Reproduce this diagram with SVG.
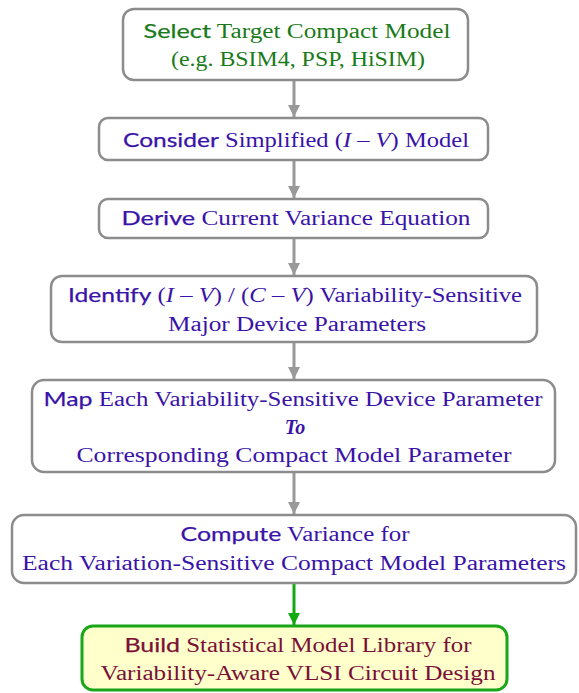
<svg xmlns="http://www.w3.org/2000/svg" width="579" height="693" viewBox="0 0 579 693">
  <style>
    .box { fill: #ffffff; stroke: #8c8c8c; stroke-width: 2.5; }
    .final { fill: #ffffcc; stroke: #1aa61a; stroke-width: 3; }
    .t { font-size: 20px; text-anchor: middle; }
    .lead { font-family: Lato, "Open Sans", sans-serif; font-weight: normal; stroke-width: 0.25px; }
    .green { fill: #1a7a1a; stroke: #1a7a1a; stroke-width: 0; }
    .blue { fill: #3a13a8; stroke: #3a13a8; stroke-width: 0; }
    .maroon { fill: #7a1036; stroke: #7a1036; stroke-width: 0; }
    .conn { stroke: #999999; stroke-width: 3; fill: none; }
    .conn-g { stroke: #11aa11; stroke-width: 3; fill: none; }
  </style>
  <defs>
    <marker id="ah" viewBox="0 0 10 10" refX="10" refY="5" markerWidth="4" markerHeight="4.5" orient="auto" markerUnits="strokeWidth">
      <path d="M0,0 L10,5 L0,10 z" fill="#999999"/>
    </marker>
    <marker id="ahg" viewBox="0 0 10 10" refX="10" refY="5" markerWidth="4" markerHeight="4.5" orient="auto" markerUnits="strokeWidth">
      <path d="M0,0 L10,5 L0,10 z" fill="#11aa11"/>
    </marker>
  </defs>

  <g id="connectors">
    <line class="conn" x1="294" y1="80" x2="294" y2="117" marker-end="url(#ah)"/>
    <line class="conn" x1="294" y1="160" x2="294" y2="198" marker-end="url(#ah)"/>
    <line class="conn" x1="294" y1="238" x2="294" y2="275" marker-end="url(#ah)"/>
    <line class="conn" x1="294" y1="342" x2="294" y2="379" marker-end="url(#ah)"/>
    <line class="conn" x1="294" y1="472" x2="294" y2="514" marker-end="url(#ah)"/>
    <line class="conn-g" x1="294" y1="583" x2="294" y2="625" marker-end="url(#ahg)"/>
  </g>

  <g font-family="Liberation Serif, DejaVu Serif, serif">
    <g id="select-model">
      <rect class="box" x="123" y="9" width="345" height="71" rx="11"/>
      <text class="t green" x="297" y="38" textLength="307" lengthAdjust="spacingAndGlyphs"><tspan class="lead">Select</tspan> Target Compact Model</text>
      <text class="t green" x="298" y="66" textLength="254" lengthAdjust="spacingAndGlyphs">(e.g. BSIM4, PSP, HiSIM)</text>
    </g>

    <g id="consider-iv">
      <rect class="box" x="99" y="118" width="389" height="42" rx="9"/>
      <text class="t blue" x="296" y="147" textLength="346" lengthAdjust="spacingAndGlyphs"><tspan class="lead">Consider</tspan> Simplified (<tspan font-style="italic">I</tspan> – <tspan font-style="italic">V</tspan>) Model</text>
    </g>

    <g id="derive-variance">
      <rect class="box" x="99" y="199" width="389" height="39" rx="9"/>
      <text class="t blue" x="296" y="225" textLength="349" lengthAdjust="spacingAndGlyphs"><tspan class="lead">Derive</tspan> Current Variance Equation</text>
    </g>

    <g id="identify-params">
      <rect class="box" x="51" y="276" width="486" height="66" rx="11"/>
      <text class="t blue" x="295" y="302" textLength="454" lengthAdjust="spacingAndGlyphs"><tspan class="lead">Identify</tspan> (<tspan font-style="italic">I</tspan> – <tspan font-style="italic">V</tspan>) / (<tspan font-style="italic">C</tspan> – <tspan font-style="italic">V</tspan>) Variability-Sensitive</text>
      <text class="t blue" x="297" y="331" textLength="258" lengthAdjust="spacingAndGlyphs">Major Device Parameters</text>
    </g>

    <g id="map-params">
      <rect class="box" x="32" y="380" width="523" height="92" rx="12"/>
      <text class="t blue" x="293" y="406" textLength="499" lengthAdjust="spacingAndGlyphs"><tspan class="lead">Map</tspan> Each Variability-Sensitive Device Parameter</text>
      <text class="t blue" x="295" y="434" font-style="italic" font-weight="bold">To</text>
      <text class="t blue" x="294" y="462" textLength="435" lengthAdjust="spacingAndGlyphs">Corresponding Compact Model Parameter</text>
    </g>

    <g id="compute-variance">
      <rect class="box" x="12" y="515" width="564" height="68" rx="12"/>
      <text class="t blue" x="295" y="541" textLength="229" lengthAdjust="spacingAndGlyphs"><tspan class="lead">Compute</tspan> Variance for</text>
      <text class="t blue" x="294" y="570" textLength="544" lengthAdjust="spacingAndGlyphs">Each Variation-Sensitive Compact Model Parameters</text>
    </g>

    <g id="build-library">
      <rect class="final" x="82" y="626" width="425" height="64" rx="11"/>
      <text class="t maroon" x="298" y="652" textLength="347" lengthAdjust="spacingAndGlyphs"><tspan class="lead">Build</tspan> Statistical Model Library for</text>
      <text class="t maroon" x="298" y="680" textLength="395" lengthAdjust="spacingAndGlyphs">Variability-Aware VLSI Circuit Design</text>
    </g>
  </g>
</svg>
